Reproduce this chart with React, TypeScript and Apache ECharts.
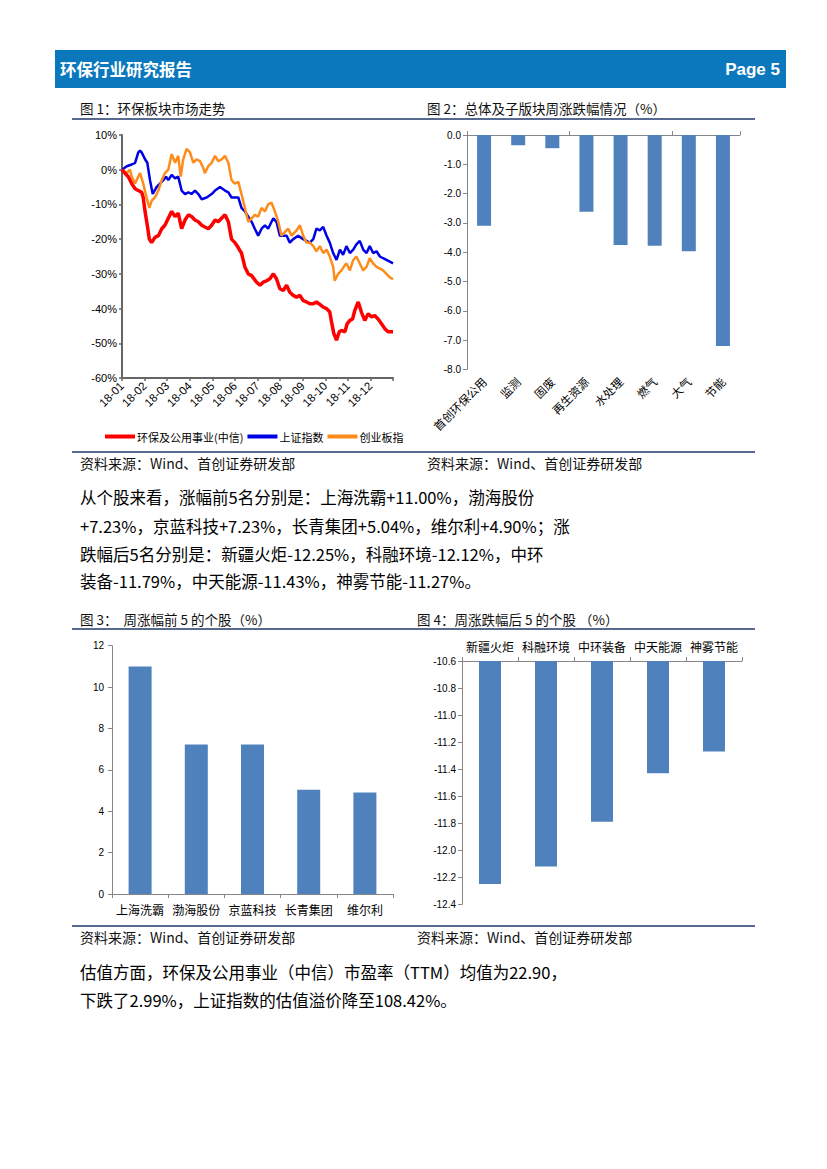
import React, { useEffect, useRef } from 'react';
import * as echarts from 'echarts';

// ---------- Chart 1: 环保板块市场走势 (month position, % change) ----------
const monthLabels = ['18-01', '18-02', '18-03', '18-04', '18-05', '18-06', '18-07', '18-08', '18-09', '18-10', '18-11', '18-12'];
const lineNames = ['环保及公用事业(中信)', '上证指数', '创业板指'];

const hbSeries: [number, number][] = [
  [0, 0], [0.13, -1], [0.28, -2], [0.43, -4], [0.58, -5.5], [0.72, -6], [0.87, -6.5], [0.94, -8], [1.02, -12], [1.12, -16],
  [1.21, -20], [1.31, -21], [1.46, -19.5], [1.61, -19], [1.76, -17], [1.9, -16], [2.05, -14], [2.2, -12], [2.35, -13.5], [2.49, -12.5],
  [2.64, -17], [2.79, -14.5], [2.94, -13], [3.08, -13.5], [3.23, -14.5], [3.38, -15], [3.53, -16], [3.67, -16.5], [3.82, -17], [3.97, -16],
  [4.12, -14.5], [4.26, -15], [4.41, -14], [4.56, -13], [4.71, -15], [4.85, -20], [5.0, -21], [5.15, -22.5], [5.29, -24], [5.44, -28],
  [5.59, -30], [5.74, -30.5], [5.96, -32.4], [6.11, -33.3], [6.25, -32.4], [6.4, -32], [6.55, -31.4], [6.7, -30], [6.84, -31.4], [6.99, -34.3],
  [7.14, -34.8], [7.29, -33.3], [7.43, -35.3], [7.58, -36.2], [7.73, -36.7], [7.88, -36.2], [8.02, -37.7], [8.17, -38.1], [8.32, -38.6], [8.47, -38.6],
  [8.61, -38.1], [8.76, -38.8], [8.91, -39.6], [9.06, -40], [9.2, -41], [9.28, -43.9], [9.38, -47.2], [9.5, -49.1], [9.62, -46.7], [9.72, -46.3],
  [9.87, -46.7], [9.97, -44.4], [10.09, -43.4], [10.21, -43], [10.31, -40.5], [10.46, -38.1], [10.6, -41], [10.75, -43.4], [10.9, -41.5], [11.05, -42.4],
  [11.19, -42], [11.34, -43], [11.49, -44.4], [11.64, -45.8], [11.78, -46.7], [12, -46.7],
];

const szSeries: [number, number][] = [
  [0, 0], [0.21, 1], [0.43, 1.5], [0.58, 2], [0.72, 5], [0.8, 5.5], [0.87, 5], [1.02, 3], [1.12, 2], [1.24, -3],
  [1.36, -7], [1.53, -5], [1.68, -4], [1.83, -3], [1.95, -2], [2.05, -3], [2.2, -1.5], [2.35, -2.5], [2.49, -2], [2.64, -6],
  [2.79, -7], [2.94, -6.5], [3.08, -7], [3.23, -6], [3.38, -7], [3.53, -8.5], [3.75, -8], [3.97, -7], [4.12, -6], [4.34, -5],
  [4.56, -6], [4.71, -6.5], [4.85, -8], [5.0, -8], [5.15, -8], [5.29, -11], [5.44, -12], [5.59, -13.5], [5.74, -15], [5.88, -17],
  [6.03, -19], [6.18, -17], [6.33, -16], [6.47, -17], [6.7, -14], [6.84, -15], [6.99, -19], [7.14, -19], [7.29, -19], [7.43, -21],
  [7.58, -20], [7.8, -19], [8.02, -20], [8.17, -20.5], [8.32, -21], [8.47, -20], [8.61, -17], [8.76, -17.5], [8.91, -16.5], [9.06, -19],
  [9.2, -21], [9.35, -24], [9.5, -26], [9.65, -23], [9.79, -24.5], [9.94, -22], [10.09, -24], [10.24, -23], [10.38, -21.5], [10.53, -20.5],
  [10.68, -23], [10.83, -24], [10.97, -22], [11.12, -24], [11.27, -23.5], [11.42, -25], [11.56, -25.5], [11.71, -26], [11.86, -26.5], [12, -27],
];

const cybSeries: [number, number][] = [
  [0, 0], [0.21, -1], [0.35, 0], [0.43, -2], [0.58, -4], [0.72, -2], [0.8, -1], [0.94, -4], [1.09, -8], [1.21, -11],
  [1.31, -9], [1.46, -8], [1.61, -6], [1.76, -3], [1.9, -1], [2.05, 0], [2.2, 4.5], [2.35, 2], [2.49, 4], [2.6, -2],
  [2.71, 3], [2.86, 6], [3.01, 5], [3.16, 2], [3.3, 3], [3.45, 2.5], [3.6, 0.5], [3.67, -1], [3.82, 1], [3.97, 2],
  [4.12, 4], [4.26, 2.5], [4.41, 3], [4.56, 4], [4.71, 2], [4.85, -3], [5.0, -4], [5.15, -3.5], [5.29, -7], [5.44, -11],
  [5.59, -15], [5.74, -14], [5.88, -13], [6.03, -13.5], [6.18, -11], [6.33, -12], [6.47, -10], [6.62, -9.5], [6.77, -12], [6.92, -15],
  [7.06, -19], [7.21, -18], [7.36, -17], [7.51, -19], [7.73, -17.5], [7.88, -16], [8.02, -19], [8.17, -21], [8.32, -21], [8.47, -22],
  [8.61, -23.5], [8.76, -22], [8.91, -24], [9.06, -23], [9.2, -25], [9.35, -28], [9.42, -32], [9.57, -30], [9.72, -29], [9.87, -27.5],
  [9.94, -27], [10.09, -29], [10.24, -26], [10.38, -25], [10.53, -27], [10.68, -29], [10.83, -28], [10.97, -25.5], [11.12, -27], [11.27, -28],
  [11.42, -28.5], [11.56, -29], [11.71, -30], [11.86, -31], [12, -31.5],
];

// ---------- Chart 2: 总体及子版块周涨跌幅 ----------
const sectorNames = ['首创环保公用', '监测', '固废', '再生资源', '水处理', '燃气', '大气', '节能'];
const sectorValues = [-3.1, -0.35, -0.45, -2.62, -3.75, -3.78, -3.97, -7.2];

// ---------- Chart 3: 周涨幅前5的个股 ----------
const topNames = ['上海洗霸', '渤海股份', '京蓝科技', '长青集团', '维尔利'];
const topValues = [11.0, 7.23, 7.23, 5.04, 4.9];

// ---------- Chart 4: 周涨跌幅后5的个股 ----------
const bottomNames = ['新疆火炬', '科融环境', '中环装备', '中天能源', '神雾节能'];
const bottomValues = [-12.25, -12.12, -11.79, -11.43, -11.27];

// ---------- Texts ----------
const headerTitle = '环保行业研究报告';
const headerPage = 'Page 5';
const figTitles = ['图 1：环保板块市场走势', '图 2：总体及子版块周涨跌幅情况（%）', '图 3：  周涨幅前 5 的个股（%）', '图 4：周涨跌幅后 5 的个股 （%）'];
const sourceText = '资料来源：Wind、首创证券研发部';
const para1 = [
  '从个股来看，涨幅前5名分别是：上海洗霸+11.00%，渤海股份',
  '+7.23%，京蓝科技+7.23%，长青集团+5.04%，维尔利+4.90%；涨',
  '跌幅后5名分别是：新疆火炬-12.25%，科融环境-12.12%，中环',
  '装备-11.79%，中天能源-11.43%，神雾节能-11.27%。',
];
const para2 = [
  '估值方面，环保及公用事业（中信）市盈率（TTM）均值为22.90，',
  '下跌了2.99%，上证指数的估值溢价降至108.42%。',
];

const CJK = '"Noto Sans CJK SC", sans-serif';
const LAT = '"Liberation Sans", Arial, sans-serif';
const AXIS_GRAY = '#868686';
const BAR_BLUE = '#4F81BD';
const RULE = '#1F3A6B';

function txt(text: string, x: number, y: number, size: number, extra: any = {}) {
  return {
    type: 'text',
    x,
    y,
    silent: true,
    style: { text, fill: '#000', fontSize: size, fontFamily: CJK, verticalAlign: 'middle', align: 'left', ...extra },
  };
}
function rule(y: number) {
  return { type: 'line', silent: true, shape: { x1: 72, y1: y, x2: 755, y2: y }, style: { stroke: RULE, lineWidth: 1.5 } };
}

function buildOption(): any {
  const graphic: any[] = [
    { type: 'rect', silent: true, shape: { x: 55, y: 50, width: 731, height: 38 }, style: { fill: '#0B78BD' } },
    txt(headerTitle, 60, 69, 16.5, { fill: '#fff', fontWeight: 'bold' }),
    txt(headerPage, 780, 69, 17, { fill: '#fff', fontWeight: 'bold', align: 'right', fontFamily: LAT }),
    txt(figTitles[0], 80, 108, 13.5, { fill: '#111' }),
    txt(figTitles[1], 427, 108, 13.5, { fill: '#111' }),
    rule(119),
    rule(452),
    txt(sourceText, 80, 463, 14, { fill: '#111' }),
    txt(sourceText, 427, 463, 14, { fill: '#111' }),
    txt(figTitles[2], 80, 619, 13.5, { fill: '#111' }),
    txt(figTitles[3], 417, 619, 13.5, { fill: '#111' }),
    rule(629),
    rule(926),
    txt(sourceText, 80, 937, 14, { fill: '#111' }),
    txt(sourceText, 417, 937, 14, { fill: '#111' }),
  ];
  const p1y = [497, 526, 554, 581];
  para1.forEach((t, i) => graphic.push(txt(t, 80, p1y[i], 16.5)));
  const p2y = [972, 1000];
  para2.forEach((t, i) => graphic.push(txt(t, 80, p2y[i], 16.5)));

  const axisLineGray = { show: true, lineStyle: { color: AXIS_GRAY, width: 1 } };
  const tickGray = { show: true, length: 4, lineStyle: { color: AXIS_GRAY } };

  return {
    animation: false,
    backgroundColor: '#fff',
    graphic,
    legend: {
      left: 100,
      top: 426,
      icon: 'rect',
      itemWidth: 30,
      itemHeight: 4,
      itemGap: 4,
      data: lineNames,
      textStyle: { fontSize: 11, fontFamily: CJK, color: '#000', padding: [0, 0, 0, -3] },
      selectedMode: false,
    },
    grid: [
      { left: 122, top: 135, width: 271, height: 243 },
      { left: 467, top: 135, width: 273, height: 234.4 },
      { left: 112, top: 645.7, width: 281, height: 248.3 },
      { left: 462, top: 661, width: 280, height: 243.3 },
    ],
    xAxis: [
      {
        type: 'value', gridIndex: 0, min: 0, max: 12, interval: 1,
        axisLine: { show: true, onZero: false, lineStyle: { color: '#666', width: 2 } },
        axisTick: { show: true, length: 3, lineStyle: { color: '#666', width: 1.5 } },
        splitLine: { show: false },
        axisLabel: {
          rotate: 45, fontSize: 11.5, fontFamily: LAT, color: '#000', margin: 6,
          formatter: (v: number) => (v < 12 ? monthLabels[v] : ''),
        },
      },
      {
        type: 'category', gridIndex: 1, position: 'top', data: sectorNames,
        axisLine: { ...axisLineGray, onZero: false }, axisTick: tickGray, axisLabel: { show: false },
      },
      {
        type: 'category', gridIndex: 1, position: 'bottom', data: sectorNames,
        axisLine: { show: false, onZero: false }, axisTick: { show: false },
        axisLabel: { rotate: 45, fontSize: 11.5, fontFamily: CJK, color: '#000', margin: 10, interval: 0 },
      },
      {
        type: 'category', gridIndex: 2, data: topNames,
        axisLine: { ...axisLineGray, onZero: false }, axisTick: tickGray,
        axisLabel: { fontSize: 12, fontFamily: CJK, color: '#000', margin: 9, interval: 0 },
      },
      {
        type: 'category', gridIndex: 3, position: 'top', data: bottomNames,
        axisLine: { ...axisLineGray, onZero: false }, axisTick: tickGray,
        axisLabel: { fontSize: 12, fontFamily: CJK, color: '#000', margin: 9, interval: 0 },
      },
    ],
    yAxis: [
      {
        type: 'value', gridIndex: 0, min: -60, max: 10, interval: 10,
        axisLine: { show: true, lineStyle: { color: '#666', width: 2 } },
        axisTick: { show: true, length: 3, lineStyle: { color: '#666', width: 1.5 } },
        splitLine: { show: false },
        axisLabel: { fontSize: 11, fontFamily: LAT, color: '#000', margin: 5, formatter: '{value}%' },
      },
      {
        type: 'value', gridIndex: 1, min: -8, max: 0, interval: 1,
        axisLine: axisLineGray, axisTick: tickGray, splitLine: { show: false },
        axisLabel: { fontSize: 10, fontFamily: LAT, color: '#000', margin: 6, formatter: (v: number) => v.toFixed(1) },
      },
      {
        type: 'value', gridIndex: 2, min: 0, max: 12, interval: 2,
        axisLine: axisLineGray, axisTick: tickGray, splitLine: { show: false },
        axisLabel: { fontSize: 10, fontFamily: LAT, color: '#000', margin: 8 },
      },
      {
        type: 'value', gridIndex: 3, min: -12.4, max: -10.6, interval: 0.2,
        axisLine: axisLineGray, axisTick: tickGray, splitLine: { show: false },
        axisLabel: { fontSize: 10, fontFamily: LAT, color: '#000', margin: 6, formatter: (v: number) => v.toFixed(1) },
      },
    ],
    series: [
      {
        name: lineNames[0], type: 'line', xAxisIndex: 0, yAxisIndex: 0, data: hbSeries,
        showSymbol: false, symbol: 'none', color: '#FF0000', lineStyle: { color: '#FF0000', width: 3.5 }, z: 3,
      },
      {
        name: lineNames[1], type: 'line', xAxisIndex: 0, yAxisIndex: 0, data: szSeries,
        showSymbol: false, symbol: 'none', color: '#0000E6', lineStyle: { color: '#0000E6', width: 2.5 }, z: 2,
      },
      {
        name: lineNames[2], type: 'line', xAxisIndex: 0, yAxisIndex: 0, data: cybSeries,
        showSymbol: false, symbol: 'none', color: '#FF8C1A', lineStyle: { color: '#FF8C1A', width: 2.5 }, z: 2,
      },
      {
        type: 'bar', xAxisIndex: 1, yAxisIndex: 1, data: sectorValues, barWidth: 14,
        itemStyle: { color: BAR_BLUE },
      },
      {
        type: 'bar', xAxisIndex: 3, yAxisIndex: 2, data: topValues, barWidth: 23,
        itemStyle: { color: BAR_BLUE },
      },
      {
        type: 'bar', xAxisIndex: 4, yAxisIndex: 3, data: bottomValues, barWidth: 22,
        itemStyle: { color: BAR_BLUE }, clip: true,
      },
    ],
  };
}

export default function App() {
  const ref = useRef<HTMLDivElement>(null);
  useEffect(() => {
    if (!ref.current) return;
    const chart = echarts.init(ref.current, null, { renderer: 'svg', width: 827, height: 1169 });
    chart.setOption(buildOption());
    return () => chart.dispose();
  }, []);
  return (
    <div
      ref={ref}
      style={{ position: 'absolute', left: 0, top: 0, width: 827, height: 1169, background: '#fff' }}
    />
  );
}
